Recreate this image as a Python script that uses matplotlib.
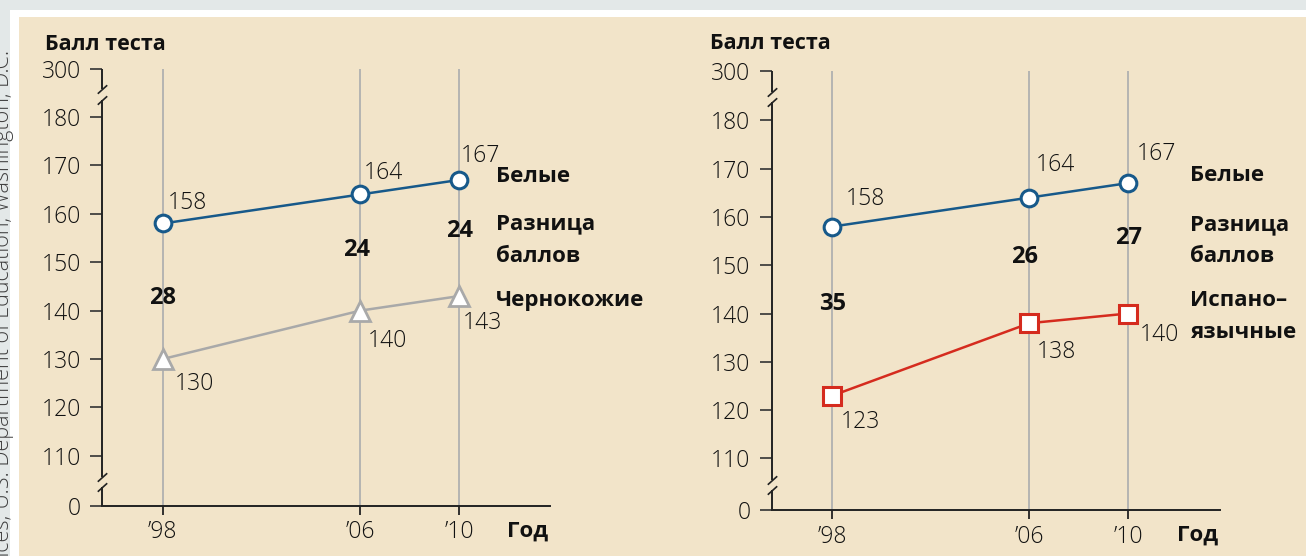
import matplotlib
matplotlib.use("Agg")
from matplotlib import pyplot as plt
from matplotlib.patches import Rectangle

plt.rcParams['font.family'] = ['Open Sans', 'DejaVu Sans']

# data
years = [1998, 2006, 2010]
year_labels = ['\u201998', '\u201906', '\u201910']
white_left = [158, 164, 167]
black_left = [130, 140, 143]
white_right = [158, 164, 167]
hispanic_right = [123, 138, 140]
gap_left = [28, 24, 24]
gap_right = [35, 26, 27]
ytick_values = [110, 120, 130, 140, 150, 160, 170, 180]

W, H = 1306, 556
BEIGE = '#f2e4c9'
BLUE = '#17598a'
GRAY = '#a9a9a9'
RED = '#d52b1e'
TXT = '#111111'
FS = 16.5      # regular numbers
FSB = 16       # bold labels
FSG = 17       # bold gap numbers


def fx(x):
    return x / W


def fy(y):
    return 1 - y / H


fig = plt.figure(figsize=(W / 100, H / 100), dpi=100)
fig.patch.set_facecolor('#e3e8e8')
fig.patches.append(Rectangle((fx(10), 0), 1, fy(10), transform=fig.transFigure,
                             facecolor='white', edgecolor='none', zorder=-2))
fig.patches.append(Rectangle((fx(19), 0), 1, fy(17), transform=fig.transFigure,
                             facecolor=BEIGE, edgecolor='none', zorder=-1))

# source line, clipped by the figure edge as in the original
fig.text(fx(9), fy(50),
         'Source: National Center for Education Statistics, Institute of Education '
         'Sciences; U.S. Department of Education, Washington, D.C.',
         rotation=90, rotation_mode='anchor', ha='right', va='baseline',
         fontsize=15.5, color='#404040', fontweight='light')


def setup_axes(rect, ylim, xlim, breaks, title_off):
    ax = fig.add_axes(rect)
    ax.set_facecolor('none')
    ax.set_ylim(ylim)
    ax.set_xlim(xlim)
    for s in ['top', 'right', 'left']:
        ax.spines[s].set_visible(False)
    ax.spines['bottom'].set_linewidth(1.4)
    ax.spines['bottom'].set_color('#222222')

    yt = [ylim[0]] + ytick_values + [ylim[1]]
    ax.set_yticks(yt, ['0'] + [str(v) for v in ytick_values] + ['300'])
    ax.tick_params(axis='y', direction='out', length=8.4, width=1.2,
                   color='#333333', labelsize=FS, labelcolor=TXT, pad=7)
    ax.set_xticks(years, year_labels)
    ax.tick_params(axis='x', direction='out', length=6.5, width=1.3,
                   color='#222222', labelsize=FS, labelcolor=TXT, pad=4)
    for lab in ax.get_xticklabels() + ax.get_yticklabels():
        lab.set_fontweight('light')

    # background guide lines
    ax.vlines(years, ylim[0], ylim[1], color='#b0b0b0', lw=1.3, zorder=1)

    # broken left spine
    tr = ax.get_yaxis_transform()
    d = 1.1
    up, low = breaks
    segs = [(ylim[1], up + d), (up - d, low + d), (low - d, ylim[0])]
    for a, b in segs:
        ax.plot([0, 0], [a, b], transform=tr, color='#222222', lw=1.4,
                clip_on=False, solid_capstyle='butt')
    for b in (up, low):
        ax.plot([0, 0], [b + d, b - d], transform=tr, ls='none',
                marker=[(-1, -0.9), (1, 0.9)], ms=6.8, mew=1.2,
                color='#222222', clip_on=False)

    ax.annotate('Балл теста', xy=(0, 1), xycoords='axes fraction',
                xytext=title_off, textcoords='offset pixels',
                ha='left', va='center', fontsize=15.5, fontweight='bold', color=TXT)
    ax.annotate('Год', xy=(1, 0), xycoords='axes fraction',
                xytext=(-2, -25), textcoords='offset pixels',
                ha='right', va='center', fontsize=FSB, fontweight='bold', color=TXT)
    return ax


def label_points(ax, vals, offsets):
    for yr, v, (dx, dy) in zip(years, vals, offsets):
        ax.annotate(str(v), xy=(yr, v), xytext=(dx, dy),
                    textcoords='offset pixels', ha='left', va='center',
                    fontsize=FS, color=TXT, fontweight='light', zorder=5)


def bold(ax, x, y, s, size=FSB, **kw):
    ax.text(x, y, s, fontsize=size, fontweight='bold', color=TXT, **kw)


# left chart
axL = setup_axes([fx(102.3), fy(505.7), (550 - 102.3) / W, (505.7 - 69) / H],
                 (99.69, 189.92), (1995.55, 2013.68), (184.68, 104.57), (-57, 25))
axL.plot(years, white_left, color=BLUE, lw=1.8, marker='o', ms=12, mew=2.2,
         mfc='white', mec=BLUE, zorder=4)
axL.plot(years, black_left, color=GRAY, lw=1.8, marker='^', ms=15, mew=2.0,
         mfc='white', mec=GRAY, zorder=4)
label_points(axL, white_left, [(5, 20), (3, 21), (2, 24)])
label_points(axL, black_left, [(12, -25), (7, -30), (4, -27)])
for x, y, g in zip([1998, 2005.85, 2010], [142.6, 152.5, 156.5], gap_left):
    bold(axL, x, y, str(g), size=FSG, ha='center', va='center')
trL = axL.get_yaxis_transform()
bold(axL, 0.879, 167.8, 'Белые', transform=trL, ha='left', va='center')
bold(axL, 0.879, 157.9, 'Разница', transform=trL, ha='left', va='center')
bold(axL, 0.879, 151.1, 'баллов', transform=trL, ha='left', va='center')
bold(axL, 0.879, 142.0, 'Чернокожие', transform=trL, ha='left', va='center')

# right chart
axR = setup_axes([fx(771.7), fy(510), (1220 - 771.7) / W, (510 - 70.7) / H],
                 (99.32, 190.27), (1995.54, 2013.73), (184.8, 104.5), (-62, 27))
axR.plot(years, white_right, color=BLUE, lw=1.8, marker='o', ms=12, mew=2.2,
         mfc='white', mec=BLUE, zorder=4)
axR.plot(years, hispanic_right, color=RED, lw=1.8, marker='s', ms=12.5, mew=2.2,
         mfc='white', mec=RED, zorder=4)
label_points(axR, white_right, [(13, 28), (6, 33), (9, 29)])
label_points(axR, hispanic_right, [(8, -26), (7, -29), (12, -21)])
for x, y, g in zip([1998, 2005.8, 2010], [142.0, 151.7, 155.6], gap_right):
    bold(axR, x, y, str(g), size=FSG, ha='center', va='center')
trR = axR.get_yaxis_transform()
bold(axR, 0.933, 168.5, 'Белые', transform=trR, ha='left', va='center')
bold(axR, 0.933, 158.3, 'Разница', transform=trR, ha='left', va='center')
bold(axR, 0.933, 151.7, 'баллов', transform=trR, ha='left', va='center')
bold(axR, 0.933, 142.6, 'Испано\u2013', transform=trR, ha='left', va='center')
bold(axR, 0.933, 136.0, 'язычные', transform=trR, ha='left', va='center')

fig.savefig('out.png', dpi=100, facecolor=fig.get_facecolor())
